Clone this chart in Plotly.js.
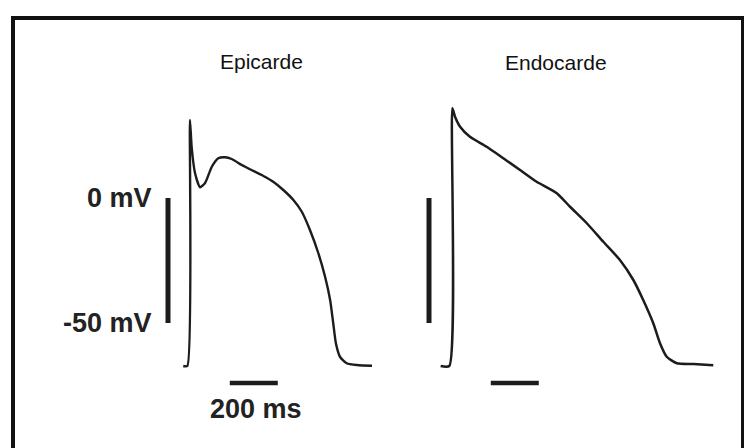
<!DOCTYPE html>
<html>
<head>
<meta charset="utf-8">
<script src="https://cdn.plot.ly/plotly-3.0.1.min.js"></script>
<style>
  html, body { margin: 0; padding: 0; background: #ffffff; }
  #chart { width: 744px; height: 448px; }
</style>
</head>
<body>
<div id="chart"></div>
<script>
// ---- Data (time in ms relative to upstroke, membrane potential in mV) ----
const panelTitles = ["Epicarde", "Endocarde"];

const epiTime = [-24, -7, 4, 11, 25, 46, 67, 95, 122, 150, 178, 220, 254, 310, 351, 393, 435, 470, 504, 539, 567, 588, 601, 612, 629, 657, 699, 810, 845, null, 861, 928];
const epiVoltage = [-67.2, -67.2, 31.2, 20.5, 10, 4.3, 6, 12.5, 15.9, 16.3, 15.6, 13.2, 11.5, 8.8, 6.5, 3.2, -0.8, -5.5, -12.8, -22.1, -31.5, -40.8, -50.1, -58.1, -63.5, -66.1, -66.8, -67.2, -67.2, null, -67.2, -67.2];

const endoTime = [-39, -3, 10, 21, 42, 83, 153, 222, 292, 361, 445, 500, 570, 639, 708, 764, 805, 847, 875, 903, 945, 1014, 1097];
const endoVoltage = [-67.2, -67.2, 35.9, 32.5, 28.5, 24.5, 20.5, 15.9, 11.2, 6.5, 1.9, -3.5, -10.1, -17.5, -24.8, -32.8, -40.8, -50.1, -58.1, -63.5, -66.1, -66.4, -66.9];

// scale bars
const voltageBarLevels = [0, -50];          // mV
const voltageBarLabels = ["0 mV", "-50 mV"];
const timeBarStart = 170;                   // ms
const timeBarLength = 200;                  // ms
const timeBarLabel = "200 ms";

// ---- Build figure ----
const ink = "#1c1c1c";
const barPos = -87.5;      // ms, position of vertical bar left of upstroke
const timeBarLevel = -74;  // mV, level of horizontal bar below baseline

function trace(x, y, xa, w, shape) {
  return { x: x, y: y, xaxis: xa, yaxis: "y", type: "scatter", mode: "lines",
           line: { color: ink, width: w, shape: shape || "linear", smoothing: 0.6 },
           connectgaps: false, hoverinfo: "skip", showlegend: false };
}

const data = [
  trace(epiTime, epiVoltage, "x", 2.4, "spline"),
  trace(endoTime, endoVoltage, "x2", 2.5, "spline"),
  trace([barPos, barPos], voltageBarLevels, "x", 5),
  trace([barPos, barPos], voltageBarLevels, "x2", 5),
  trace([timeBarStart, timeBarStart + timeBarLength], [timeBarLevel, timeBarLevel], "x", 4.5),
  trace([timeBarStart, timeBarStart + timeBarLength], [timeBarLevel, timeBarLevel], "x2", 4.5)
];

const hidden = { visible: false, fixedrange: true };

const annotations = [
  { text: panelTitles[0], xref: "x", yref: "y", x: 303, y: 54.8, xanchor: "center", yanchor: "middle",
    showarrow: false, font: { family: "Liberation Sans, Arial, sans-serif", size: 21, color: "#111" } },
  { text: panelTitles[1], xref: "x2", yref: "y", x: 442, y: 54.2, xanchor: "center", yanchor: "middle",
    showarrow: false, font: { family: "Liberation Sans, Arial, sans-serif", size: 21, color: "#111" } },
  { text: voltageBarLabels[0], xref: "x", yref: "y", x: -146, y: voltageBarLevels[0], xanchor: "right", yanchor: "middle",
    showarrow: false, font: { family: "Liberation Sans, Arial, sans-serif", size: 27, color: "#222", weight: "bold" } },
  { text: voltageBarLabels[1], xref: "x", yref: "y", x: -146, y: voltageBarLevels[1], xanchor: "right", yanchor: "middle",
    showarrow: false, font: { family: "Liberation Sans, Arial, sans-serif", size: 27, color: "#222", weight: "bold" } },
  { text: timeBarLabel, xref: "x", yref: "y", x: timeBarStart + timeBarLength / 2 + 8, y: -84.5, xanchor: "center", yanchor: "middle",
    showarrow: false, font: { family: "Liberation Sans, Arial, sans-serif", size: 27, color: "#222", weight: "bold" } }
];

const layout = {
  width: 744, height: 448,
  margin: { l: 0, r: 0, t: 0, b: 0, pad: 0 },
  paper_bgcolor: "#ffffff", plot_bgcolor: "#ffffff",
  showlegend: false,
  xaxis: Object.assign({ domain: [0, 0.5], range: [-787.5, 762.5] }, hidden),
  xaxis2: Object.assign({ domain: [0.5, 1], range: [-325, 1225] }, hidden),
  yaxis: Object.assign({ domain: [0, 1], range: [-100, 79.2] }, hidden),
  annotations: annotations,
  shapes: [
    { type: "line", xref: "paper", yref: "paper", x0: 13 / 744, x1: 13 / 744, y0: 0, y1: 1 - 16.5 / 448,
      line: { color: "#111", width: 4 } },
    { type: "line", xref: "paper", yref: "paper", x0: 11 / 744, x1: 1, y0: 1 - 18 / 448, y1: 1 - 18 / 448,
      line: { color: "#111", width: 4 } },
    { type: "line", xref: "paper", yref: "paper", x0: 742.5 / 744, x1: 742.5 / 744, y0: 0, y1: 1 - 16.5 / 448,
      line: { color: "#111", width: 3 } }
  ]
};

Plotly.newPlot("chart", data, layout, { staticPlot: true, displayModeBar: false });
</script>
</body>
</html>
